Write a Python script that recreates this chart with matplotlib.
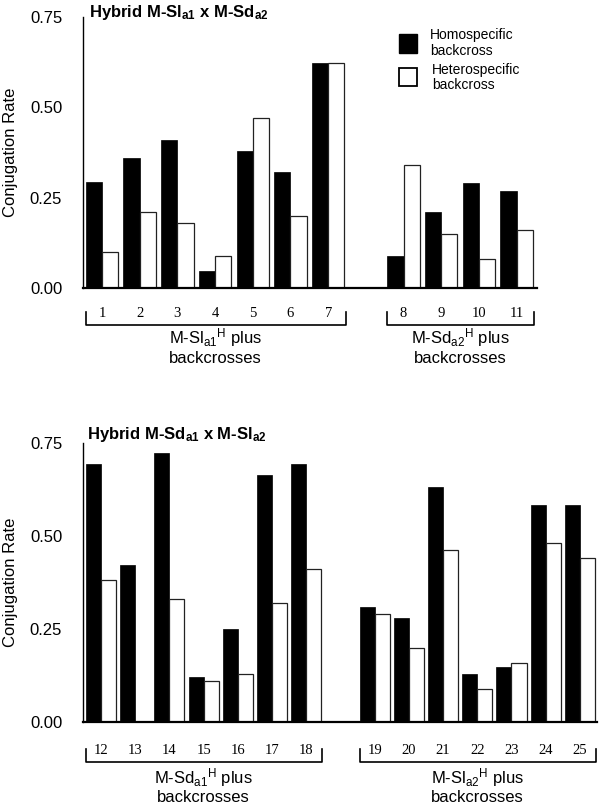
import numpy as np
import matplotlib
matplotlib.use("Agg")
import matplotlib.pyplot as plt
import matplotlib.transforms as mtransforms
from matplotlib.patches import Rectangle

plt.rcParams['font.family'] = ['Liberation Sans', 'DejaVu Sans']
plt.rcParams['mathtext.fontset'] = 'custom'
plt.rcParams['mathtext.rm'] = 'Liberation Sans'
plt.rcParams['mathtext.it'] = 'Liberation Sans:italic'
plt.rcParams['mathtext.bf'] = 'Liberation Sans:bold'

# ---------------- data ----------------
top_labels = ['1', '2', '3', '4', '5', '6', '7', '8', '9', '10', '11']
top_homo = [0.294, 0.36, 0.41, 0.048, 0.38, 0.32, 0.622, 0.089, 0.21, 0.29, 0.269]
top_hetero = [0.099, 0.21, 0.179, 0.088, 0.471, 0.198, 0.622, 0.34, 0.149, 0.079, 0.16]
top_split = 7  # first group of second bracket
top_title = r"Hybrid M-$\mathbf{Sl}_{\mathbf{a1}}$ x M-$\mathbf{Sd}_{\mathbf{a2}}$"
top_groups = [r"M-Sl$_{\mathrm{a1}}$$^{\mathrm{H}}$ plus", r"M-Sd$_{\mathrm{a2}}$$^{\mathrm{H}}$ plus"]

bot_labels = ['12', '13', '14', '15', '16', '17', '18',
              '19', '20', '21', '22', '23', '24', '25']
bot_homo = [0.694, 0.421, 0.724, 0.12, 0.251, 0.663, 0.694,
            0.31, 0.28, 0.633, 0.129, 0.149, 0.582, 0.582]
bot_hetero = [0.381, 0.0, 0.331, 0.109, 0.129, 0.321, 0.411,
              0.29, 0.20, 0.462, 0.089, 0.159, 0.482, 0.442]
bot_split = 7
bot_title = r"Hybrid M-$\mathbf{Sd}_{\mathbf{a1}}$ x M-$\mathbf{Sl}_{\mathbf{a2}}$"
bot_groups = [r"M-Sd$_{\mathrm{a1}}$$^{\mathrm{H}}$ plus", r"M-Sl$_{\mathrm{a2}}$$^{\mathrm{H}}$ plus"]

yticks = [0.0, 0.25, 0.50, 0.75]
legend_labels = ["Homospecific\nbackcross", "Heterospecific\nbackcross"]

W, H = 600, 805
fig = plt.figure(figsize=(W / 100, H / 100), dpi=100)


def fy(py):
    return 1 - py / H


def panel(rect, labels, homo, hetero, split, title, groups, xlim, w,
          title_xy, num_y, br_top, br_bot, grp_y1, grp_y2, ylab_x):
    ax = fig.add_axes(rect)
    n = len(labels)
    idx = np.arange(n)
    pos = idx + (idx >= split)
    ax.bar(pos, homo, width=-w, align='edge', color='black',
           edgecolor='black', linewidth=0.5, zorder=2)
    ax.bar(pos, hetero, width=w, align='edge', color='white',
           edgecolor='#222222', linewidth=0.9, zorder=2)
    ax.set_xlim(*xlim)
    ax.set_ylim(0, 0.75)
    ax.set_yticks(yticks)
    ax.set_yticklabels([f"{t:.2f}" for t in yticks], fontsize=12)
    ax.tick_params(axis='y', length=0, pad=15)
    ax.set_xticks([])
    for s in ['top', 'right']:
        ax.spines[s].set_visible(False)
    ax.spines['left'].set_linewidth(1.0)
    ax.spines['bottom'].set_linewidth(1.6)
    ax.spines['bottom'].set_zorder(3)
    ax.set_ylabel("Conjugation Rate", fontsize=12)
    ax.yaxis.set_label_coords(ylab_x, 0.5)

    fig.text(title_xy[0] / W, fy(title_xy[1]), title, fontsize=12,
             fontweight='bold', va='center', ha='left')

    tr = mtransforms.blended_transform_factory(ax.transData, fig.transFigure)
    for p, lab in zip(pos, labels):
        ax.text(p, fy(num_y), lab, transform=tr, ha='center', va='center',
                fontsize=10.5, family='Liberation Serif')
    spans = [(pos[0], pos[split - 1]), (pos[split], pos[-1])]
    for (a, b), g in zip(spans, groups):
        x0, x1 = a - 0.43, b + 0.47
        ax.plot([x0, x0, x1, x1], [fy(br_top), fy(br_bot), fy(br_bot), fy(br_top)],
                transform=tr, color='black', lw=1.2, clip_on=False)
        c = (a + b) / 2
        ax.text(c, fy(grp_y1), g, transform=tr, ha='center', va='center', fontsize=12)
        ax.text(c, fy(grp_y2), "backcrosses", transform=tr, ha='center',
                va='center', fontsize=12)
    return ax


ax1 = panel([83 / W, fy(288), 454 / W, 271 / H], top_labels, top_homo, top_hetero,
            top_split, top_title, top_groups, (-0.504, 11.54), 0.43,
            (89, 12), 313, 312, 325, 338, 358, -0.143)
ax2 = panel([83 / W, fy(722), 514 / W, 279 / H], bot_labels, bot_homo, bot_hetero,
            bot_split, bot_title, bot_groups, (-0.526, 14.5), 0.44,
            (87, 434), 750, 749, 762, 778, 797, -0.126)

# legend
fig.add_artist(Rectangle((399 / W, fy(53)), 18 / W, 19 / H, transform=fig.transFigure,
                         facecolor='black', edgecolor='black', lw=1))
fig.add_artist(Rectangle((399 / W, fy(86)), 18 / W, 18 / H, transform=fig.transFigure,
                         facecolor='white', edgecolor='black', lw=1.3))
fig.text(430 / W, fy(43), legend_labels[0], fontsize=10, va='center', ha='left',
         linespacing=1.15)
fig.text(432 / W, fy(77.5), legend_labels[1], fontsize=10, va='center', ha='left',
         linespacing=1.15)

fig.savefig("out.png", dpi=100)
